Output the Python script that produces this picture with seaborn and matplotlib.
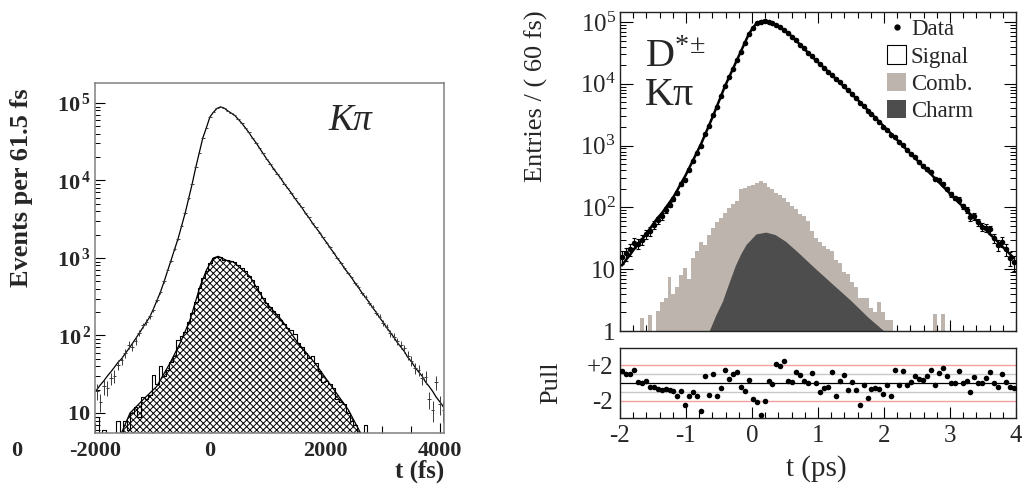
import numpy as np
import pandas as pd
import matplotlib
matplotlib.use("Agg")
import matplotlib.pyplot as plt
from matplotlib.lines import Line2D
from matplotlib.patches import Patch
from matplotlib.ticker import FixedLocator, FixedFormatter, NullFormatter, LogLocator, MultipleLocator
import seaborn as sns

sns.set_theme(style="white")
plt.rcParams.update({
    "font.family": ["Liberation Serif", "DejaVu Serif"],
    "mathtext.fontset": "custom",
    "mathtext.rm": "Liberation Serif",
    "mathtext.it": "Liberation Serif:italic",
    "mathtext.bf": "Liberation Serif:bold",
    "hatch.linewidth": 0.7,
    "axes.unicode_minus": False,
})

# ---------------- left panel: K pi, 61.5 fs bins from -2000 fs ----------------
l_bin_width = 61.5
l_data = [19, 14, 22, 21, 28, 30, 42, 48, 59, 75,
          72, 85, 108, 135, 150, 176, 215, 290, 360, 500,
          690, 920, 1300, 1760, 2620, 3780, 5900, 9100, 14900, 22800,
          35600, 47800, 66200, 75800, 85300, 88900, 86100, 79300, 74200, 69000,
          61900, 54800, 48000, 41600, 35600, 30800, 26400, 22300, 19200, 16500,
          14200, 12200, 10800, 9050, 7990, 6870, 5930, 5090, 4510, 3760,
          3340, 2790, 2480, 2120, 1850, 1560, 1370, 1150, 1010, 860,
          750, 640, 570, 470, 425, 350, 315, 262, 233, 196,
          175, 145, 129, 107, 97, 84, 76, 68, 55, 47,
          38, 36, 28, 29, 15, 11, 25, 13, 11]
l_fit = [20, 23, 26, 30, 34, 39, 45, 50, 58, 67,
         78, 91, 107, 126, 148, 174, 219, 282, 363, 490,
         676, 933, 1290, 1780, 2600, 3800, 5890, 9120, 14800, 22900,
         35500, 47900, 66100, 75900, 85100, 89100, 86000, 79400, 74100, 69200,
         61700, 55000, 47900, 41700, 35500, 30900, 26300, 22400, 19100, 16600,
         14100, 12300, 10700, 9120, 7940, 6920, 5890, 5130, 4470, 3800,
         3310, 2820, 2450, 2140, 1820, 1580, 1350, 1170, 1000, 871,
         741, 646, 562, 479, 417, 355, 309, 269, 229, 200,
         170, 148, 126, 110, 95, 81, 71, 62, 52, 46,
         39, 34, 30, 25, 22, 19, 16, 14, 12]
l_bkg = [9, 3, 6, 3, 0, 0, 8, 4, 8, 6,
         10, 12, 9, 16, 15, 17, 31, 24, 40, 30,
         36, 45, 55, 87, 98, 110, 150, 195, 270, 410,
         560, 680, 860, 990, 1040, 1030, 950, 930, 905, 880,
         800, 745, 670, 580, 520, 430, 360, 305, 262, 232,
         205, 190, 160, 140, 125, 118, 103, 80, 72, 60,
         52, 55, 44, 35, 25, 26, 24, 21, 15, 14,
         13, 10, 8, 7, 5, 4, 7, 0, 0, 0,
         0, 0, 0, 0, 0, 0, 0, 0, 0, 0,
         0, 0, 0, 0, 0, 0, 0, 0, 0]
l_bkg_t = [-1540, -1391, -1159, -927, -696, -522, -348, -174, -58, 58, 145,
           290, 406, 696, 956, 1246, 1536, 1826, 2116, 2406, 2620]
l_bkg_fit = [5.5, 10, 15, 22, 44, 79, 158, 427, 708, 1000, 1050,
             930, 890, 575, 275, 158, 79, 44, 22, 11, 5.5]
l_xticks = [-2000, 0, 2000, 4000]
l_yticks = [10, 100, 1000, 10000, 100000]
l_ytick_labels = [r"$\mathbf{10}$", r"$\mathbf{10}^{\,\mathbf{2}}$", r"$\mathbf{10}^{\,\mathbf{3}}$",
                  r"$\mathbf{10}^{\,\mathbf{4}}$", r"$\mathbf{10}^{\,\mathbf{5}}$"]

# ---------------- right panel: D*+- K pi, 60 fs bins from -2 ps ----------------
r_data = [16, 18, 21, 27, 26, 30, 37, 41, 52, 62,
          72, 91, 111, 137, 172, 238, 281, 408, 565, 752,
          971, 1545, 2078, 3075, 4273, 6262, 9254, 12646, 17512, 24184,
          33037, 45518, 63188, 78923, 94851, 101149, 104053, 100063, 95469, 89742,
          81827, 73046, 66164, 57524, 50369, 42886, 37239, 31609, 27691, 24000,
          20748, 18126, 15750, 13941, 11836, 10520, 9206, 7869, 6928, 5832,
          4958, 4357, 3695, 3200, 2788, 2366, 2035, 1769, 1491, 1373,
          1143, 1018, 845, 727, 650, 546, 474, 413, 373, 292,
          275, 243, 202, 162, 142, 134, 105, 91, 69, 72,
          58, 49, 47, 44, 32, 25, 28, 21, 15, 13]
r_fit = [11.5, 14.1, 17.0, 20.9, 25.1, 30.2, 36.3, 44.7, 55.0, 67.6,
         79.4, 97.7, 120, 148, 191, 251, 324, 437, 589, 794,
         1072, 1514, 2138, 3020, 4365, 6310, 9120, 12590, 17380, 23990,
         33110, 45710, 63100, 79430, 95500, 102300, 104700, 100000, 95500, 89100,
         81300, 72400, 66100, 57500, 50100, 42700, 37200, 31600, 27500, 24000,
         20900, 18200, 15800, 13800, 12000, 10500, 9120, 7940, 6920, 5890,
         5130, 4370, 3800, 3240, 2820, 2400, 2090, 1780, 1550, 1320,
         1150, 977, 851, 724, 631, 537, 468, 398, 347, 295,
         257, 219, 191, 162, 141, 120, 105, 89.1, 77.6, 66.1,
         57.5, 49.0, 42.7, 36.3, 31.6, 27.5, 23.4, 20.4, 17.4, 15.1]
r_comb = [0, 0, 0, 0, 0, 1.6, 0, 1.8, 0, 2.1,
          3, 3.4, 7.6, 4, 5.2, 8, 10.5, 7, 15, 19.5,
          28, 25, 36, 47, 59, 68, 80, 98, 112, 126,
          195, 204, 219, 234, 245, 263, 251, 214, 195, 174,
          158, 141, 120, 105, 95, 79, 72, 60, 42, 32,
          28, 24, 21, 20, 14, 12.6, 9, 8.3, 6.3, 5.2,
          3.4, 3.4, 3.4, 2.4, 2, 3, 2, 1.5, 1.5, 0,
          0, 0, 0, 0, 0, 0, 0, 0, 0, 1.9,
          0, 1.9, 0, 0, 0, 0, 0, 0, 0, 0,
          0, 0, 0, 0, 0, 0, 0, 0, 0, 0]
r_charm_t = [-0.65, -0.55, -0.45, -0.35, -0.25, -0.17, -0.09, 0.06, 0.21,
             0.35, 0.51, 0.7, 0.92, 1.2, 1.5, 1.75, 2.0]
r_charm = [1.0, 1.8, 3.0, 6.0, 11.7, 17.8, 25.1, 37.2, 39.8,
           36.3, 28.2, 18.6, 11.2, 6.0, 3.1, 1.7, 1.0]
r_pull = [1.3, 1.0, 1.05, 1.4, 0.1, 0.0, 0.2, -0.5, -0.4, -0.7,
          -0.8, -0.7, -0.8, -0.9, -1.4, -0.85, -2.4, -1.4, -1.0, -1.5,
          -3.1, 0.8, -1.3, 1.0, -1.4, -0.6, 1.4, 0.5, 1.0, 1.25,
          -0.4, -0.9, 0.35, -1.8, -2.1, -3.6, -2.0, 0.2, -0.1, 2.15,
          1.85, 2.4, 0.25, 0.1, 1.2, 0.9, 0.2, 0.05, 1.15, 0.0,
          -1.05, -0.55, -0.4, 1.2, -1.5, 0.2, 0.9, -0.8, 0.1, -0.75,
          -2.4, -0.2, -1.7, -0.7, -0.6, -0.7, -1.2, -0.25, -1.5, 1.45,
          -0.2, 1.3, -0.2, 0.1, 0.75, 0.4, 0.3, 0.75, 1.4, -0.2,
          1.1, 1.65, 0.8, 0.0, 0.05, 1.3, 0.0, 0.2, -0.95, 0.7,
          0.05, 0.0, 0.6, 1.2, 0.0, -0.45, 1.05, 0.1, -0.5, -0.6]
r_yticks = [1, 10, 100, 1000, 10000, 100000]
r_ytick_labels = ["1", "10", r"$10^{2}$", r"$10^{3}$", r"$10^{4}$", r"$10^{5}$"]
legend_labels = ["Data", "Signal", "Comb.", "Charm"]

COMB = "#bdb5ad"
CHARM = "#4d4d4d"
PULL_RED = "#f2a0a0"
PULL_GREY = "#c8c8c8"

l_edges = -2000 + l_bin_width * np.arange(len(l_data) + 1)
l_centers = 0.5 * (l_edges[:-1] + l_edges[1:])
r_edges = np.linspace(-2.0, 4.0, len(r_data) + 1)
r_centers = 0.5 * (r_edges[:-1] + r_edges[1:])

left_bkg_df = pd.DataFrame({"t": l_centers, "n": l_bkg})
right_comb_df = pd.DataFrame({"t": r_centers, "n": r_comb})

W, H = 1022, 486
fig = plt.figure(figsize=(W / 100, H / 100), dpi=100)
fig.patch.set_facecolor("white")

# ================= left panel =================
axL = fig.add_axes([95 / W, 53 / H, 349 / W, 350 / H])
axL.set_yscale("log")
axL.set_facecolor("white")
axL.fill_between(l_bkg_t, l_bkg_fit, 0.1, facecolor="white", edgecolor="black",
                 hatch="xxxxx", linewidth=0)
sns.histplot(data=left_bkg_df, x="t", weights="n", bins=list(l_edges), element="step",
             fill=False, color="black", linewidth=0.8, ax=axL)
sns.lineplot(x=l_bkg_t, y=l_bkg_fit, color="black", linewidth=0.9, legend=False, ax=axL)
sns.lineplot(x=l_centers, y=l_fit, color="black", linewidth=0.9, legend=False, ax=axL)
axL.errorbar(l_centers, l_data, yerr=np.sqrt(l_data), xerr=l_bin_width / 2,
             fmt="none", ecolor="#3a3a3a", elinewidth=0.7)

axL.set_xlim(-2000, 4070)
axL.set_ylim(5.52, 1.81e5)
axL.xaxis.set_major_locator(FixedLocator(l_xticks))
axL.xaxis.set_minor_locator(MultipleLocator(500))
axL.yaxis.set_major_locator(FixedLocator(l_yticks))
axL.yaxis.set_major_formatter(FixedFormatter(l_ytick_labels))
axL.yaxis.set_minor_locator(LogLocator(base=10, subs=np.arange(2, 10)))
axL.yaxis.set_minor_formatter(NullFormatter())
axL.tick_params(axis="x", which="major", direction="in", length=7, width=0.8,
                labelsize=16, pad=6, top=False, bottom=True, color="black")
axL.tick_params(axis="x", which="minor", direction="in", length=5, width=0.8,
                top=False, bottom=True, color="black")
axL.tick_params(axis="y", which="major", direction="in", length=7, width=0.8,
                labelsize=16, pad=3, left=True, right=False, color="black")
axL.tick_params(axis="y", which="minor", direction="in", length=3.5, width=0.7,
                left=True, right=False, color="black")
for lab in axL.get_xticklabels():
    lab.set_fontweight("bold")
for sp in axL.spines.values():
    sp.set_color("#808080")
    sp.set_linewidth(1.1)

axL.set_ylabel("Events per 61.5 fs", fontsize=19, fontweight="bold")
axL.yaxis.set_label_coords(-0.178, 0.70)
axL.set_xlabel("t (fs)", fontsize=18, fontweight="bold", ha="right")
axL.xaxis.set_label_coords(1.0, -0.075)
axL.text(0.668, 0.866, "Kπ", transform=axL.transAxes, fontsize=27,
         fontstyle="italic", va="baseline", ha="left")
fig.text(17 / W, 1 - 451 / H, "0", fontsize=16, fontweight="bold", ha="center", va="center")

# ================= right panel, main =================
axR = fig.add_axes([620 / W, 155 / H, 396 / W, 319 / H])
axR.set_yscale("log")
axR.set_facecolor("white")
sns.histplot(data=right_comb_df, x="t", weights="n", bins=list(r_edges), element="step",
             fill=True, color=COMB, alpha=1.0, linewidth=0, ax=axR)
axR.fill_between(r_charm_t, r_charm, 0.1, color=CHARM, linewidth=0)
sns.lineplot(x=r_centers, y=r_fit, color="black", linewidth=1.8, legend=False, ax=axR)
axR.errorbar(r_centers, r_data, yerr=np.sqrt(r_data), fmt="none", ecolor="black",
             elinewidth=0.8, capsize=1.2, capthick=0.8)
sns.scatterplot(x=r_centers, y=r_data, color="black", s=16, linewidth=0, legend=False,
                zorder=3, ax=axR)

axR.set_xlim(-2, 4)
axR.set_ylim(1, 1.45e5)
axR.xaxis.set_major_locator(MultipleLocator(1))
axR.xaxis.set_minor_locator(MultipleLocator(0.2))
axR.yaxis.set_major_locator(FixedLocator(r_yticks))
axR.yaxis.set_major_formatter(FixedFormatter(r_ytick_labels))
axR.yaxis.set_minor_locator(LogLocator(base=10, subs=np.arange(2, 10)))
axR.yaxis.set_minor_formatter(NullFormatter())
axR.tick_params(axis="x", which="major", direction="in", length=8, width=0.8,
                top=True, bottom=True, labelbottom=False, color="black")
axR.tick_params(axis="x", which="minor", direction="in", length=4.5, width=0.8,
                top=True, bottom=True, color="black")
axR.tick_params(axis="y", which="major", direction="in", length=9, width=0.8,
                left=True, right=True, labelsize=18, pad=3, color="black")
axR.tick_params(axis="y", which="minor", direction="in", length=4.5, width=0.7,
                left=True, right=True, color="black")
for sp in axR.spines.values():
    sp.set_color("#222222")
    sp.set_linewidth(1.0)
axR.set_xlabel("")
axR.set_ylabel("Entries / ( 60 fs)", fontsize=19)
axR.yaxis.set_label_coords(-0.182, 0.737)

axR.text(0.063, 0.828, r"$\mathrm{D}^{*\!\pm}$", transform=axR.transAxes, fontsize=29,
         va="baseline", ha="left")
axR.text(0.063, 0.708, "Kπ", transform=axR.transAxes, fontsize=29,
         va="baseline", ha="left")

handles = [
    Line2D([0], [0], marker="o", color="black", linestyle="none", markersize=3.5),
    Patch(facecolor="white", edgecolor="black", linewidth=0.8),
    Patch(facecolor=COMB, edgecolor="none"),
    Patch(facecolor=CHARM, edgecolor="none"),
]
axR.legend(handles, legend_labels, loc="upper left", bbox_to_anchor=(0.674, 0.98),
           frameon=False, fontsize=16.5, handlelength=0.85, handleheight=0.85,
           handletextpad=0.2, labelspacing=0.22, borderpad=0, borderaxespad=0)

# ================= right panel, pulls =================
axP = fig.add_axes([620 / W, 68 / H, 396 / W, 70 / H])
axP.set_facecolor("white")
for yv, col in [(2, PULL_RED), (-2, PULL_RED), (1, PULL_GREY), (-1, PULL_GREY)]:
    axP.axhline(yv, color=col, linewidth=1.0, zorder=1)
axP.axhline(0, color="black", linewidth=0.9, zorder=1)
sns.scatterplot(x=r_centers, y=r_pull, color="black", s=16, linewidth=0, legend=False,
                zorder=3, ax=axP)
axP.set_xlim(-2, 4)
axP.set_ylim(-3.9, 3.9)
axP.set_yticks([-2, 2])
axP.set_yticklabels(["-2", "+2"])
axP.xaxis.set_major_locator(MultipleLocator(1))
axP.xaxis.set_minor_locator(MultipleLocator(0.2))
axP.tick_params(axis="y", length=0, labelsize=18, pad=5)
axP.tick_params(axis="x", which="major", direction="in", length=8, width=0.8,
                top=False, bottom=True, labelsize=18, pad=5, color="black")
axP.tick_params(axis="x", which="minor", direction="in", length=4.5, width=0.8,
                top=False, bottom=True, color="black")
for sp in axP.spines.values():
    sp.set_color("#222222")
    sp.set_linewidth(1.0)
axP.set_ylabel("Pull", fontsize=19)
axP.yaxis.set_label_coords(-0.146, 0.5)
axP.set_xlabel("t (ps)", fontsize=21)
axP.xaxis.set_label_coords(0.495, -0.53)

fig.savefig("out.png", dpi=100, facecolor="white")
